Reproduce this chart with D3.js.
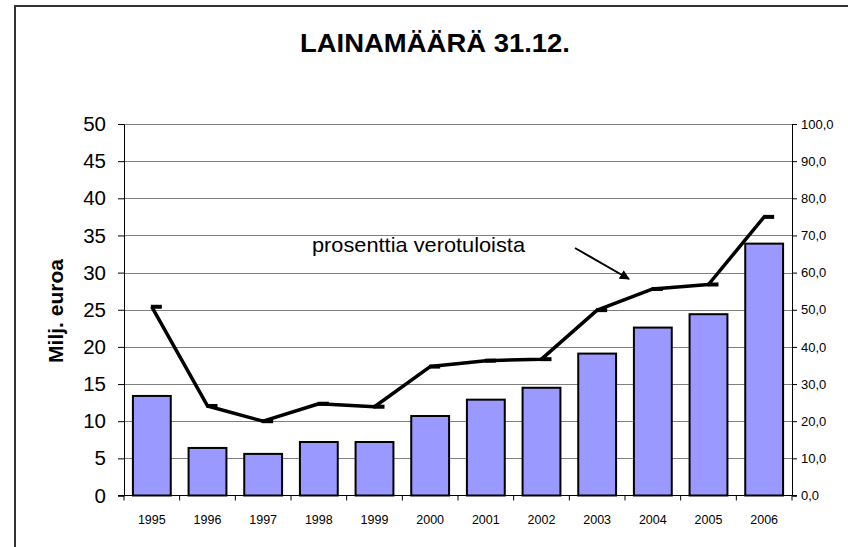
<!DOCTYPE html>
<html>
<head>
<meta charset="utf-8">
<script src="https://cdn.jsdelivr.net/npm/d3@7"></script>
<style>
  body { margin: 0; background: #fff; }
  text { font-family: "Liberation Sans", Arial, sans-serif; fill: #000; }
</style>
</head>
<body>
<div id="chart"></div>
<script>
var years = ["1995", "1996", "1997", "1998", "1999", "2000", "2001", "2002", "2003", "2004", "2005", "2006"];
// loan amount, million euros (bars, left axis)
var loans = [13.4, 6.4, 5.6, 7.2, 7.2, 10.7, 12.9, 14.5, 19.1, 22.6, 24.4, 33.9];
// percent of tax income (line, right axis)
var percent = [50.8, 24.1, 20.0, 24.7, 23.9, 34.7, 36.3, 36.7, 49.9, 55.6, 56.8, 75.0];
var leftTicks = [0, 5, 10, 15, 20, 25, 30, 35, 40, 45, 50];
var rightTicks = [0, 10, 20, 30, 40, 50, 60, 70, 80, 90, 100];

var svgWidth = 848;
var svgHeight = 547;
var margin = { top: 124, right: 56, bottom: 51.5, left: 124 };
var width = svgWidth - margin.left - margin.right;
var height = svgHeight - margin.top - margin.bottom;

var svg = d3.select("#chart")
  .append("svg")
  .attr("width", svgWidth)
  .attr("height", svgHeight);

// outer frame
svg.append("rect")
  .attr("x", 15)
  .attr("y", 6)
  .attr("width", 860)
  .attr("height", 600)
  .attr("fill", "none")
  .attr("stroke", "#333")
  .attr("stroke-width", 2);

svg.append("text")
  .attr("x", 435)
  .attr("y", 52)
  .attr("text-anchor", "middle")
  .attr("font-size", 25)
  .attr("font-weight", "bold")
  .attr("textLength", 270)
  .attr("lengthAdjust", "spacingAndGlyphs")
  .text("LAINAMÄÄRÄ 31.12.");

var chartGroup = svg.append("g")
  .attr("transform", `translate(${margin.left}, ${margin.top})`);

var xScale = d3.scaleBand()
  .domain(years)
  .range([0, width])
  .paddingInner(0.32)
  .paddingOuter(0.16);

var yLeft = d3.scaleLinear().domain([0, 50]).range([height, 0]);
var yRight = d3.scaleLinear().domain([0, 100]).range([height, 0]);

// gridlines
chartGroup.append("g")
  .selectAll("line")
  .data(leftTicks.slice(1))
  .enter()
  .append("line")
  .attr("x1", 0)
  .attr("x2", width)
  .attr("y1", d => Math.round(yLeft(d)) + 0.5)
  .attr("y2", d => Math.round(yLeft(d)) + 0.5)
  .attr("stroke", "#808080")
  .attr("stroke-width", 1);

// bars
chartGroup.selectAll("rect.bar")
  .data(loans)
  .enter()
  .append("rect")
  .attr("class", "bar")
  .attr("x", (d, i) => xScale(years[i]))
  .attr("y", d => yLeft(d))
  .attr("width", xScale.bandwidth())
  .attr("height", d => height - yLeft(d))
  .attr("fill", "#9999FF")
  .attr("stroke", "#000")
  .attr("stroke-width", 2);

// left axis
var leftAxis = d3.axisLeft(yLeft)
  .tickValues(leftTicks)
  .tickSize(6)
  .tickPadding(12);
var gLeft = chartGroup.append("g").call(leftAxis);
gLeft.selectAll("text").attr("font-size", 20.5).attr("font-family", null);
gLeft.selectAll("line, path").attr("stroke", "#000");

// right axis
var rightAxis = d3.axisRight(yRight)
  .tickValues(rightTicks)
  .tickSize(5)
  .tickPadding(4)
  .tickFormat(d => d3.format(".1f")(d).replace(".", ","));
var gRight = chartGroup.append("g")
  .attr("transform", `translate(${width}, 0)`)
  .call(rightAxis);
gRight.selectAll("text").attr("font-size", 13).attr("font-family", null);
gRight.selectAll("line, path").attr("stroke", "#000");

// bottom axis with ticks between categories
var step = xScale.step();
var gBottom = chartGroup.append("g")
  .attr("transform", `translate(0, ${height})`);
gBottom.append("line")
  .attr("x1", -6).attr("x2", width + 5)
  .attr("stroke", "#000");
gBottom.selectAll("line.tick")
  .data(d3.range(years.length + 1))
  .enter()
  .append("line")
  .attr("class", "tick")
  .attr("x1", i => i * step)
  .attr("x2", i => i * step)
  .attr("y1", 0)
  .attr("y2", 5)
  .attr("stroke", "#000");
gBottom.selectAll("text")
  .data(years)
  .enter()
  .append("text")
  .attr("x", d => xScale(d) + xScale.bandwidth() / 2)
  .attr("y", 28)
  .attr("text-anchor", "middle")
  .attr("font-size", 12.5)
  .text(d => d);

// percentage line
var cx = (d, i) => xScale(years[i]) + xScale.bandwidth() / 2;
var line = d3.line()
  .x(cx)
  .y(d => yRight(d));

chartGroup.append("path")
  .datum(percent)
  .attr("d", line)
  .attr("fill", "none")
  .attr("stroke", "#000")
  .attr("stroke-width", 3.5)
  .attr("stroke-linejoin", "round");

// dash markers
chartGroup.selectAll("rect.marker")
  .data(percent)
  .enter()
  .append("rect")
  .attr("class", "marker")
  .attr("x", (d, i) => cx(d, i) - 1)
  .attr("y", d => yRight(d) - 2)
  .attr("width", 11)
  .attr("height", 4)
  .attr("fill", "#000");

// y axis title
svg.append("text")
  .attr("transform", "translate(63, 311) rotate(-90)")
  .attr("text-anchor", "middle")
  .attr("font-size", 21)
  .attr("font-weight", "bold")
  .text("Milj. euroa");

// annotation
svg.append("text")
  .attr("x", 312)
  .attr("y", 252)
  .attr("font-size", 21)
  .attr("textLength", 213)
  .attr("lengthAdjust", "spacingAndGlyphs")
  .text("prosenttia verotuloista");

svg.append("defs").append("marker")
  .attr("id", "arrow")
  .attr("viewBox", "0 0 10 10")
  .attr("refX", 9)
  .attr("refY", 5)
  .attr("markerWidth", 5)
  .attr("markerHeight", 5)
  .attr("orient", "auto")
  .append("path")
  .attr("d", "M0,0 L10,5 L0,10 z")
  .attr("fill", "#000");

svg.append("line")
  .attr("x1", 575)
  .attr("y1", 248)
  .attr("x2", 629)
  .attr("y2", 279)
  .attr("stroke", "#000")
  .attr("stroke-width", 2)
  .attr("marker-end", "url(#arrow)");
</script>
</body>
</html>
